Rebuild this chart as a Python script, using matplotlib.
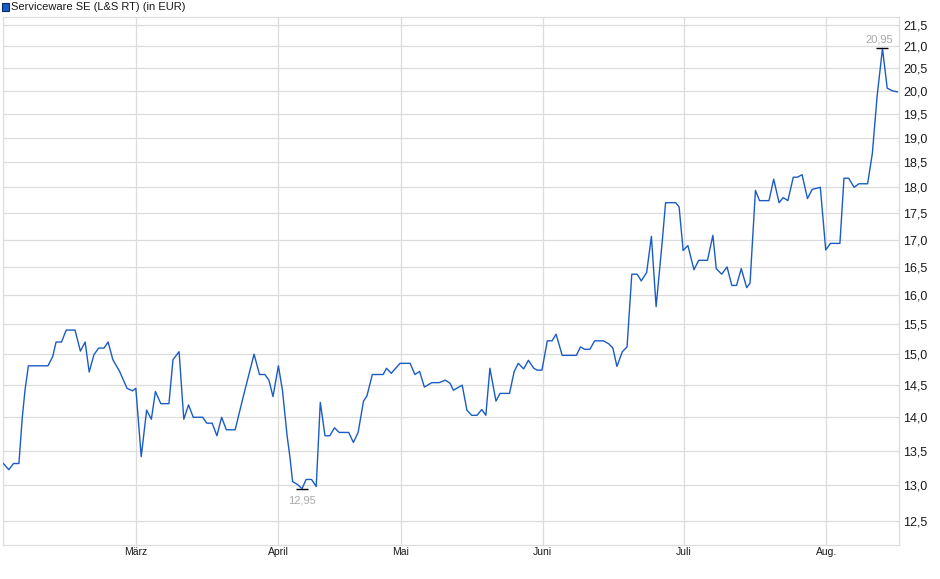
import matplotlib
matplotlib.use("Agg")
import matplotlib.pyplot as plt
import numpy as np
from matplotlib.patches import Rectangle
from matplotlib.ticker import FixedLocator, FuncFormatter, NullLocator

plt.rcParams["font.family"] = ["Liberation Sans", "DejaVu Sans"]

# trading day index (approx.) and price in EUR
days = [0.1, 0.9, 1.6, 2.4, 2.9, 3.3, 3.8, 6.7, 7.4, 7.9, 8.7, 9.4, 10.7, 11.5,
        12.2, 12.8, 13.5, 14.2, 15.0, 15.6, 16.3, 17.3, 18.4, 19.2, 19.7, 20.5,
        21.3, 22.0, 22.6, 23.4, 24.6, 25.2, 26.1, 26.8, 27.5, 28.2, 29.6, 30.2,
        31.0, 31.7, 32.4, 33.1, 34.4, 35.6, 37.2, 38.0, 38.8, 39.4, 40.0, 40.8,
        41.4, 42.1, 42.5, 42.9, 43.6, 44.3, 44.9, 45.7, 46.4, 47.0, 47.7, 48.4,
        49.1, 49.8, 51.2, 51.9, 52.6, 53.4, 53.9, 54.7, 56.3, 56.8, 57.5, 58.8,
        60.3, 61.0, 61.7, 62.4, 63.5, 64.6, 65.5, 66.2, 66.7, 68.0, 68.7, 69.4,
        70.2, 70.9, 71.5, 72.1, 73.0, 73.6, 75.0, 75.7, 76.3, 77.1, 77.8, 78.6,
        79.1, 79.8, 80.6, 81.3, 81.9, 82.8, 84.9, 85.5, 86.1, 86.9, 87.6, 88.9,
        89.7, 90.3, 90.9, 91.7, 92.4, 93.1, 93.9, 94.5, 95.3, 96.0, 96.7, 97.6,
        98.1, 99.6, 100.1, 100.7, 101.4, 102.3, 103.0, 104.3, 105.1, 105.6,
        106.4, 107.2, 107.9, 108.6, 109.3, 110.1, 110.6, 111.4, 112.0, 113.4,
        114.1, 114.9, 115.5, 116.2, 117.0, 117.6, 118.3, 119.1, 119.8, 121.0,
        121.8, 122.5, 123.9, 124.5, 125.2, 126.0, 126.7, 128.0, 128.7, 129.4,
        130.2, 130.9, 131.7, 132.4]
prices = [13.31, 13.22, 13.31, 13.31, 14.00, 14.42, 14.81, 14.81, 14.96, 15.20,
          15.20, 15.40, 15.40, 15.05, 15.20, 14.71, 14.99, 15.10, 15.10, 15.20,
          14.91, 14.72, 14.45, 14.41, 14.45, 13.41, 14.11, 13.97, 14.40, 14.21,
          14.21, 14.91, 15.04, 13.97, 14.19, 14.00, 14.00, 13.91, 13.91, 13.72,
          14.00, 13.81, 13.81, 14.32, 15.00, 14.67, 14.67, 14.58, 14.32, 14.81,
          14.42, 13.71, 13.41, 13.05, 13.01, 12.95, 13.08, 13.08, 12.98, 14.23,
          13.72, 13.72, 13.84, 13.77, 13.77, 13.62, 13.77, 14.25, 14.33, 14.67,
          14.67, 14.77, 14.69, 14.85, 14.85, 14.67, 14.72, 14.47, 14.54, 14.54,
          14.58, 14.53, 14.42, 14.50, 14.11, 14.03, 14.03, 14.12, 14.03, 14.77,
          14.25, 14.37, 14.37, 14.72, 14.85, 14.76, 14.90, 14.77, 14.74, 14.74,
          15.22, 15.22, 15.33, 14.98, 14.98, 15.12, 15.08, 15.08, 15.22, 15.22,
          15.17, 15.10, 14.80, 15.04, 15.12, 16.37, 16.37, 16.25, 16.40, 17.06,
          15.80, 16.96, 17.70, 17.70, 17.62, 16.80, 16.89, 16.45, 16.62, 16.62,
          17.08, 16.47, 16.37, 16.50, 16.17, 16.17, 16.47, 16.13, 16.21, 17.94,
          17.74, 17.74, 18.16, 17.70, 17.80, 17.74, 18.20, 18.20, 18.25, 17.78,
          17.96, 18.00, 16.81, 16.93, 16.93, 18.18, 18.18, 18.00, 18.07, 18.07,
          18.68, 19.88, 20.95, 20.06, 20.00, 19.98]

month_pos = [19.7, 40.8, 58.9, 79.9, 100.8, 121.9]
month_labels = ["März", "April", "Mai", "Juni", "Juli", "Aug."]
y_ticks = [12.5, 13.0, 13.5, 14.0, 14.5, 15.0, 15.5, 16.0, 16.5, 17.0, 17.5,
           18.0, 18.5, 19.0, 19.5, 20.0, 20.5, 21.0, 21.5]

line_color = "#1a5cc6"
grid_color = "#dcdcdc"

fig = plt.figure(figsize=(9.4, 5.79), dpi=100)
ax = fig.add_axes([2.7 / 940, 34.3 / 579, 896 / 940, 528 / 579])

ax.plot(days, prices, color=line_color, lw=1.0, zorder=3)

ax.set_yscale("log")
ax.set_ylim(12.18, 21.69)
ax.set_xlim(0, 132.6)
ax.yaxis.set_major_locator(FixedLocator(y_ticks))
ax.yaxis.set_minor_locator(NullLocator())
ax.yaxis.set_major_formatter(FuncFormatter(lambda v, p: f"{v:.1f}".replace(".", ",")))
ax.yaxis.tick_right()
ax.tick_params(axis="y", length=0, pad=3, labelsize=9, labelcolor="#1a1a1a")

ax.set_xticks(month_pos)
ax.set_xticklabels(month_labels)
ax.tick_params(axis="x", length=0, pad=2, labelsize=7.5, labelcolor="#1a1a1a")

ax.grid(True, color=grid_color, lw=0.9, zorder=0)
for s in ax.spines.values():
    s.set_color(grid_color)
    s.set_linewidth(0.9)

# min / max markers
i_min = int(np.argmin(prices))
i_max = int(np.argmax(prices))
for i, dx, dy, va in [(i_min, 0, -5, "top"), (i_max, -2.5, 3, "bottom")]:
    ax.plot(days[i], prices[i], marker="_", color="black", ms=9, mew=1.0, zorder=4)
    ax.annotate(f"{prices[i]:.2f}".replace(".", ","), (days[i], prices[i]),
                xytext=(dx, dy), textcoords="offset points", ha="center", va=va,
                fontsize=8, color="#a8a8a8")

# legend box
fig.patches.append(Rectangle((1.5 / 940, 1 - 10.5 / 579), 7 / 940, 7 / 579,
                             transform=fig.transFigure, facecolor="#1a5cc6",
                             edgecolor="#0a2a6a", lw=0.8))
fig.text(11 / 940, 1 - 7 / 579, "Serviceware SE (L&S RT) (in EUR)", fontsize=8,
         color="#1a1a1a", va="center", ha="left")

fig.savefig("out.png", dpi=100)
